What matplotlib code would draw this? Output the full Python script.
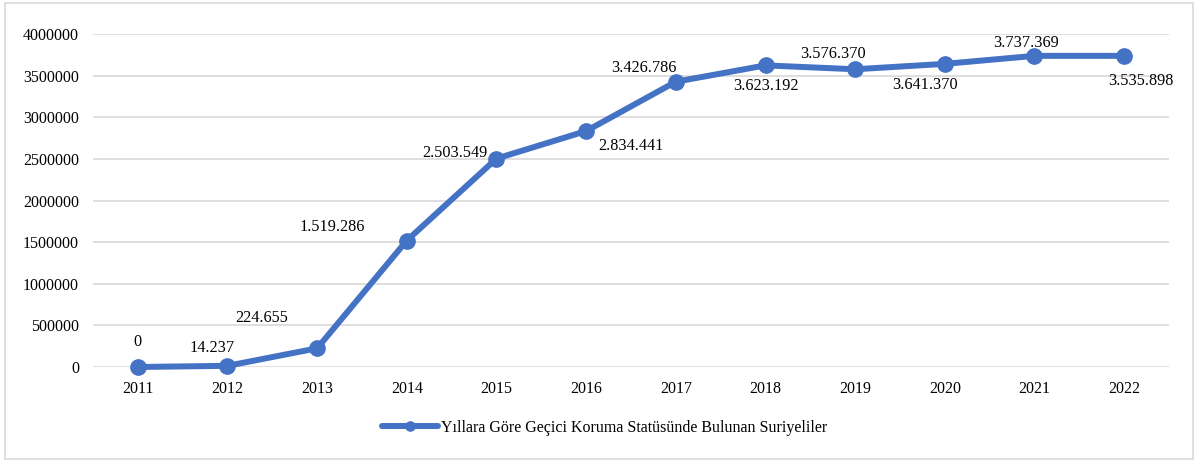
import numpy as np
import matplotlib.pyplot as plt
from matplotlib.patches import Rectangle

years = ["2011", "2012", "2013", "2014", "2015", "2016",
         "2017", "2018", "2019", "2020", "2021", "2022"]
values = [0, 14237, 224655, 1519286, 2503549, 2834441,
          3426786, 3623192, 3576370, 3641370, 3737369, 3737369]
labels = ["0", "14.237", "224.655", "1.519.286", "2.503.549", "2.834.441",
          "3.426.786", "3.623.192", "3.576.370", "3.641.370", "3.737.369", "3.535.898"]
series_name = "Yıllara Göre Geçici Koruma Statüsünde Bulunan Suriyeliler"

# label offsets in points (dx, dy) relative to each point
offsets = [(0, 18), (-11, 13), (-40, 22), (-54, 10), (-30, 4), (32, -11),
           (-23, 10), (0, -15), (-16, 11), (-14, -15), (-6, 9.5), (12, -18)]

plt.rcParams["font.family"] = ["Liberation Serif", "DejaVu Serif"]
color = "#4472C4"

fig = plt.figure(figsize=(11.98, 4.62), dpi=100)
ax = fig.add_axes([93 / 1198, 1 - 367 / 462, 1076 / 1198, 333 / 462])

x = np.arange(len(years))
ax.plot(x, values, color=color, linewidth=4.3, marker="o", markersize=11,
        solid_capstyle="round", clip_on=False, zorder=3, label=series_name)

for xi, v, lab, (dx, dy) in zip(x, values, labels, offsets):
    ax.annotate(lab, (xi, v), xytext=(dx, dy), textcoords="offset points",
                ha="center", va="center", fontsize=11.7, color="#000000")

yt = np.arange(0, 4000001, 500000)
ax.set_xlim(-0.5, len(years) - 0.5)
ax.set_ylim(0, 4000000)
ax.set_yticks(yt)
ax.set_yticklabels([str(int(t)) for t in yt])
ax.set_xticks(x)
ax.set_xticklabels(years)
ax.tick_params(axis="both", length=0, labelsize=11.5, colors="#000000")
ax.tick_params(axis="y", pad=10)
ax.tick_params(axis="x", pad=10)
ax.grid(axis="y", color="#d9d9d9", linewidth=1.2)
ax.set_axisbelow(True)
for s in ax.spines.values():
    s.set_visible(False)

ax.legend(loc="center", bbox_to_anchor=(605 / 1198, (462 - 428) / 462), bbox_transform=fig.transFigure,
          frameon=False, fontsize=11.5, handlelength=3.5, handletextpad=0.2, markerscale=0.6)

fig.patches.append(Rectangle((5 / 1198, 3 / 462), 1188 / 1198, 456 / 462,
                             transform=fig.transFigure, fill=False,
                             edgecolor="#d9d9d9", linewidth=1.2))

fig.savefig("out.png", dpi=100)
